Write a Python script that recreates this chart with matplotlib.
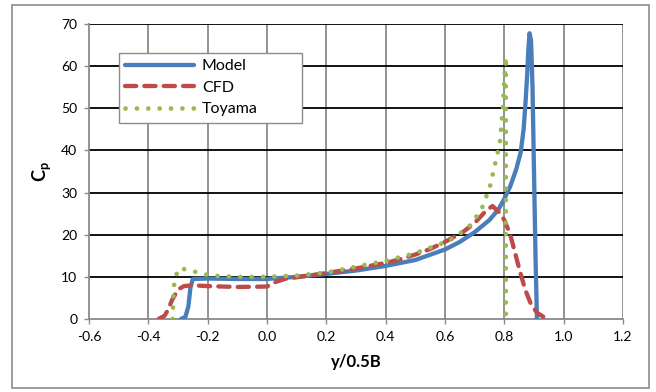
import matplotlib
matplotlib.use("Agg")
import matplotlib.pyplot as plt
from matplotlib.patches import Rectangle

plt.rcParams['font.family'] = ['Lato', 'DejaVu Sans']
plt.rcParams['mathtext.fontset'] = 'custom'
plt.rcParams['mathtext.bf'] = 'Lato:bold'
plt.rcParams['mathtext.rm'] = 'Lato'

# ---- data ----
model_x = [-0.29, -0.275, -0.265, -0.258, -0.25, -0.2, -0.1, 0.0, 0.1, 0.2, 0.3, 0.4, 0.5,
           0.6, 0.65, 0.7, 0.75, 0.78, 0.8, 0.82, 0.84, 0.855, 0.865, 0.872, 0.877, 0.881,
           0.885, 0.89, 0.895, 0.9, 0.905, 0.91]
model_y = [0.0, 0.5, 3.0, 7.5, 9.5, 9.6, 9.5, 9.5, 10.0, 10.7, 11.5, 12.6, 14.0,
           16.5, 18.3, 20.6, 23.5, 26.0, 28.5, 31.5, 35.5, 39.5, 45.0, 52.0, 58.0, 64.0,
           67.8, 66.0, 55.0, 35.0, 15.0, 0.0]

cfd_x = [-0.365, -0.345, -0.335, -0.32, -0.3, -0.28, -0.25, -0.2, -0.1, 0.0, 0.03, 0.06, 0.1,
         0.2, 0.3, 0.4, 0.45, 0.5, 0.55, 0.6, 0.66, 0.7, 0.74, 0.76, 0.78,
         0.8, 0.82, 0.85, 0.87, 0.89, 0.91, 0.93, 0.948]
cfd_y = [0.0, 0.8, 2.0, 4.5, 7.0, 7.8, 8.0, 7.8, 7.6, 7.7, 8.8, 9.5, 9.9,
         10.9, 12.0, 13.3, 14.2, 15.3, 16.6, 18.3, 20.6, 22.8, 25.8, 26.8, 25.5,
         23.5, 20.0, 12.0, 7.0, 3.5, 1.5, 0.6, 0.0]

toyama_x = [-0.318, -0.317, -0.316, -0.314, -0.31, -0.295, -0.26, -0.22, -0.19, -0.1, 0.0,
            0.1, 0.2, 0.3, 0.4, 0.5, 0.6, 0.63, 0.69, 0.728, 0.752, 0.768, 0.785,
            0.795, 0.8, 0.805, 0.805, 0.805]
toyama_y = [0.0, 2.3, 4.8, 7.4, 9.9, 12.1, 11.5, 10.8, 10.3, 10.0, 10.0,
            10.3, 11.0, 12.4, 13.8, 15.6, 18.2, 19.2, 22.5, 26.8, 31.6, 36.5, 41.8,
            50.0, 57.0, 62.2, 30.0, 0.0]

x_ticks = [-0.6, -0.4, -0.2, 0.0, 0.2, 0.4, 0.6, 0.8, 1.0, 1.2]
y_ticks = [0, 10, 20, 30, 40, 50, 60, 70]

# ---- figure ----
fig = plt.figure(figsize=(6.56, 3.92), dpi=100)
fig.patches.append(Rectangle((12 / 656, 1 - 388 / 392), (649 - 12) / 656, (388 - 5) / 392,
                             transform=fig.transFigure, fill=False, edgecolor='#8c8c8c',
                             linewidth=1.2))
ax = fig.add_axes([89 / 656, 1 - 319 / 392, (623 - 89) / 656, (319 - 24) / 392])

ax.set_xlim(-0.6, 1.2)
ax.set_ylim(0, 70)
ax.set_xticks(x_ticks)
ax.set_xticklabels([f"{t:.1f}" for t in x_ticks])
ax.set_yticks(y_ticks)
ax.set_yticklabels([str(t) for t in y_ticks])

for t in y_ticks[1:]:
    ax.axhline(t, color='black', lw=1.3, zorder=1)
for t in x_ticks[1:]:
    ax.axvline(t, color='#8a8a8a', lw=1.3, zorder=0.9)

for s in ['top', 'right']:
    ax.spines[s].set_visible(False)
ax.spines['left'].set_color('#8a8a8a')
ax.spines['bottom'].set_color('#8a8a8a')
ax.spines['left'].set_linewidth(1.3)
ax.spines['bottom'].set_linewidth(1.3)
ax.tick_params(axis='both', direction='out', length=3.5, width=1.0, color='#8a8a8a',
               labelsize=10, pad=5, labelcolor='black')

lw = 3.1
ax.plot(model_x, model_y, color='#4A7EBB', lw=lw, solid_capstyle='round',
        solid_joinstyle='round', label='Model', zorder=3)
ax.plot(cfd_x, cfd_y, color='#BE4B48', lw=lw, dashes=(2.6, 1.9), dash_capstyle='round',
        label='CFD', zorder=4)
ax.plot(toyama_x, toyama_y, color='#98B954', lw=lw + 0.3, dashes=(0.01, 2.4),
        dash_capstyle='round', label='Toyama', zorder=5)

ax.set_xlabel('y/0.5B', fontsize=12, fontweight='bold', labelpad=8)
ax.set_ylabel(r'$\mathbf{C_p}$', fontsize=13, labelpad=6)

leg = ax.legend(loc='upper left', bbox_to_anchor=(0.056, 0.671, 0.343, 0.231),
                mode='expand', fancybox=False, framealpha=1, edgecolor='#8c8c8c',
                fontsize=11.5, handlelength=4.3, handletextpad=0.5, labelspacing=0.45,
                borderaxespad=0, borderpad=0.4)
leg.get_frame().set_linewidth(1.0)
leg.set_zorder(10)

fig.savefig('out.png', dpi=100)
